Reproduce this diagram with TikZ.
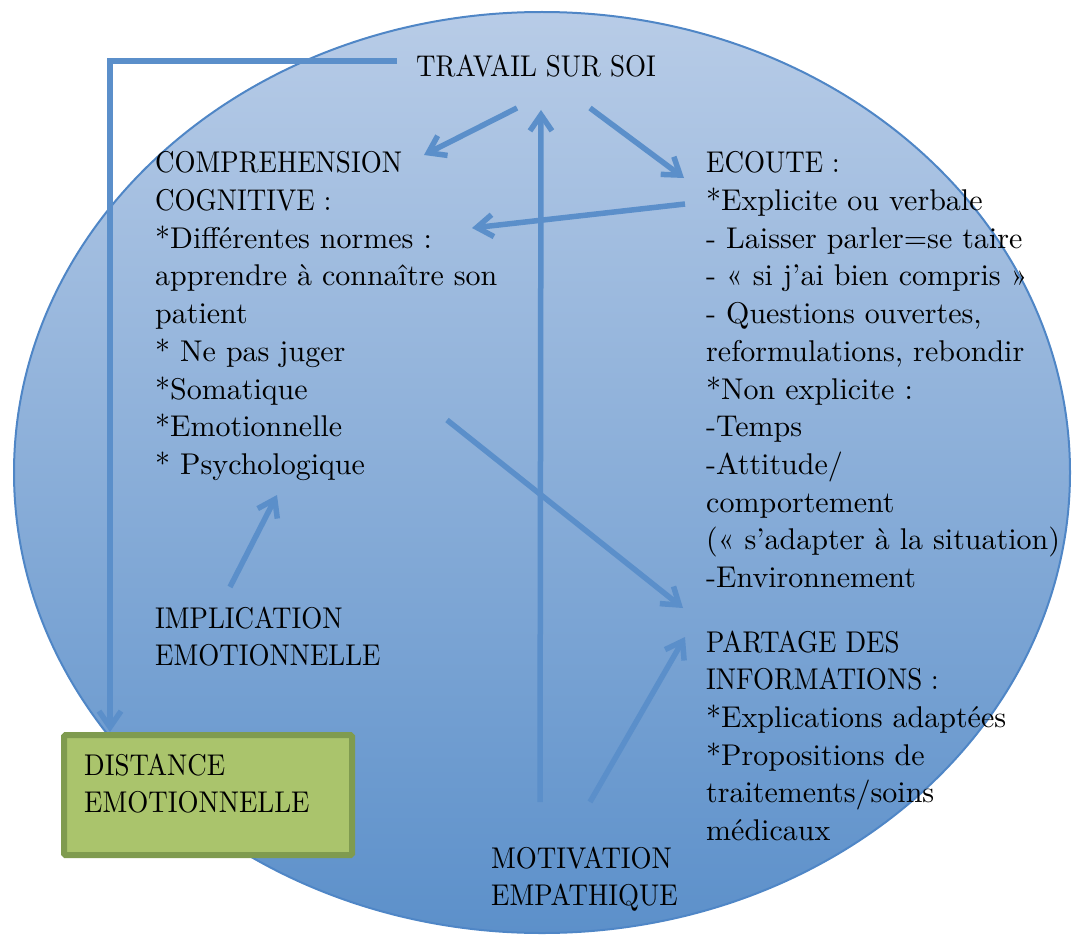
\documentclass[tikz,border=0pt]{standalone}
\usepackage{fontspec}
\setmainfont{lmroman10-regular.otf}
\newfontfamily\capsfont{lmroman10-regular.otf}[FakeStretch=0.9]
\newcommand\hd[1]{{\capsfont #1}}
\usetikzlibrary{arrows.meta}
\definecolor{ovaltop}{HTML}{B8CCE7}
\definecolor{ovalbot}{HTML}{5C90CA}
\definecolor{ovalline}{HTML}{4F86C6}
\definecolor{linkblue}{HTML}{5B8FCA}
\definecolor{boxfill}{HTML}{AAC46C}
\definecolor{boxline}{HTML}{7F9B4F}
\tikzset{
  txt/.style={anchor=north west, inner sep=0pt, align=left,
    font=\fontsize{30}{37.7}\selectfont},
  link/.style={draw=linkblue, line width=5.5pt,
    -{Straight Barb[length=16pt,width=22pt]}},
  greenbox/.style={draw=boxline, fill=boxfill, line width=6pt,
    rounded corners=1.5pt, anchor=north west, inner sep=0pt},
}
\begin{document}
\begin{tikzpicture}[x=1pt,y=-1pt]
\useasboundingbox (0,0) rectangle (1081,947);
% oval
\shadedraw[top color=ovaltop, bottom color=ovalbot, draw=ovalline, line width=2pt]
  (542,472.5) ellipse [x radius=528, y radius=460.5];

% texts
\node[txt] (travail) at (416,54.5) {\hd{TRAVAIL SUR SOI}};
\node[txt] (compr) at (155,151.5) {\hd{COMPREHENSION}\\\hd{COGNITIVE :}\\*Différentes normes :\\
  apprendre à connaître son\\patient\\* Ne pas juger\\*Somatique\\*Emotionnelle\\* Psychologique};
\node[txt] (ecoute) at (706,151.5) {\hd{ECOUTE :}\\*Explicite ou verbale\\- Laisser parler=se taire\\
  - « si j’ai bien compris »\\- Questions ouvertes,\\reformulations, rebondir\\
  *Non explicite :\\-Temps\\-Attitude/\\comportement\\(« s’adapter à la situation)\\-Environnement};
\node[txt] (implic) at (155,606.5) {\hd{IMPLICATION}\\\hd{EMOTIONNELLE}};
\node[txt] (partage) at (706,630.5) {\hd{PARTAGE DES}\\\hd{INFORMATIONS :}\\*Explications adaptées\\
  *Propositions de\\traitements/soins\\médicaux};
\node[txt] (motiv) at (491,846.5) {\hd{MOTIVATION}\\\hd{EMPATHIQUE}};
\node[greenbox, minimum width=288pt, minimum height=120pt] (distance) at (61,732) {};
\node[txt] (distxt) at (84,753.5) {\hd{DISTANCE}\\\hd{EMOTIONNELLE}};

% arrow ends
\coordinate (ts-l) at (517,108);
\coordinate (ts-r) at (590,108);
\coordinate (ts-in) at (541,110);
\coordinate (cc-in) at (424,155);
\coordinate (cc-norm) at (472,228);
\coordinate (cc-emo) at (447,420);
\coordinate (cc-psy) at (277,495);
\coordinate (ec-in) at (684,178);
\coordinate (ec-out) at (685,204);
\coordinate (ie-up) at (230,587);
\coordinate (pa-in1) at (683,608);
\coordinate (pa-in2) at (685,637);
\coordinate (mo-up) at (540,802);
\coordinate (mo-r) at (590,802);

% connectors
\draw[link] ([shift={(-19,-5)}]travail.west) -| ([xshift=49pt]distance.north west);
\draw[link] (ts-l) -- (cc-in);
\draw[link] (ts-r) -- (ec-in);
\draw[link] (mo-up) -- (ts-in);
\draw[link] (ec-out) -- (cc-norm);
\draw[link] (cc-emo) -- (pa-in1);
\draw[link] (ie-up) -- (cc-psy);
\draw[link] (mo-r) -- (pa-in2);
\end{tikzpicture}
\end{document}
